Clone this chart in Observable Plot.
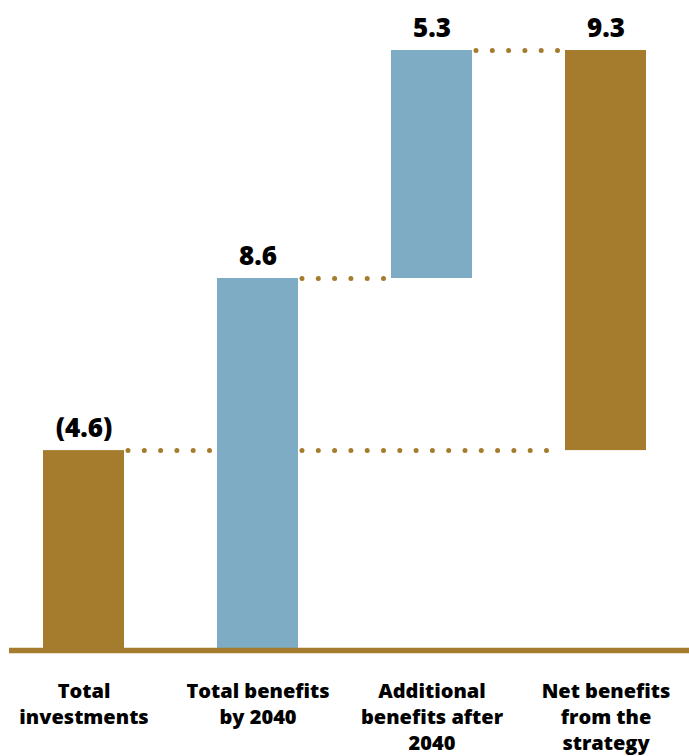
<!DOCTYPE html>
<html>
<head>
<meta charset="utf-8">
<script src="https://cdn.jsdelivr.net/npm/d3@7"></script>
<script src="https://cdn.jsdelivr.net/npm/@observablehq/plot@0.6"></script>
<style>
  html, body { margin: 0; padding: 0; background: #ffffff; }
  #chart svg { display: block; }
</style>
</head>
<body>
<div id="chart"></div>
<script>
// Waterfall of the strategy's costs and benefits (billions)
const categories = [
  "Total investments",
  "Total benefits by 2040",
  "Additional benefits after 2040",
  "Net benefits from the strategy"
];
const categoryLines = [
  "Total\ninvestments",
  "Total benefits\nby 2040",
  "Additional\nbenefits after\n2040",
  "Net benefits\nfrom the\nstrategy"
];
const values = [4.6, 8.6, 5.3, 9.3];          // bar lengths
const bases = [0, 0, 8.6, 4.6];               // where each bar starts
const valueLabels = ["(4.6)", "8.6", "5.3", "9.3"];
const kinds = ["cost", "benefit", "benefit", "net"];

const gold = "#a57c2e";
const blue = "#7dacc4";

const bars = categories.map((c, i) => ({
  category: c,
  lines: categoryLines[i],
  base: bases[i],
  top: bases[i] + values[i],
  label: valueLabels[i],
  kind: kinds[i]
}));

// Dotted connectors between consecutive levels of the waterfall
const connectors = [
  {from: categories[0], to: categories[1], level: bars[0].top},
  {from: categories[1], to: categories[2], level: bars[1].top},
  {from: categories[2], to: categories[3], level: bars[2].top},
  {from: categories[1], to: categories[3], level: bars[3].base}
];

const font = "'Open Sans', Lato, sans-serif";

const chart = Plot.plot({
  width: 689,
  height: 756,
  marginLeft: 9,
  marginRight: 0,
  marginTop: 0,
  marginBottom: 0,
  style: {fontFamily: font, background: "#ffffff"},
  x: {domain: categories, range: [42, 646], paddingInner: 0.535, paddingOuter: 0, axis: null},
  y: {domain: [0, 13.9], range: [648, 50], axis: null},
  color: {domain: ["cost", "benefit", "net"], range: [gold, blue, gold]},
  marks: [
    Plot.ruleY(connectors, {
      y: "level",
      x1: "from",
      x2: "to",
      insetLeft: 85,
      insetRight: 85,
      stroke: gold,
      strokeWidth: 5,
      strokeLinecap: "round",
      strokeDasharray: "0 16.3"
    }),
    Plot.barY(bars, {
      x: "category",
      y1: "base",
      y2: "top",
      fill: "kind"
    }),
    Plot.ruleY([0], {stroke: gold, strokeWidth: 5.5, dy: 2}),
    Plot.text(bars, {
      x: "category",
      y: "top",
      text: "label",
      dy: -14,
      lineAnchor: "bottom",
      fontSize: 26,
      fontWeight: 800,
      fill: "#000000"
    }),
    Plot.text(bars, {
      x: "category",
      y: 0,
      text: "lines",
      dy: 31,
      lineAnchor: "top",
      lineHeight: 1.3,
      fontSize: 20,
      fontWeight: 800,
      fill: "#000000"
    })
  ]
});

document.getElementById("chart").append(chart);
</script>
</body>
</html>
